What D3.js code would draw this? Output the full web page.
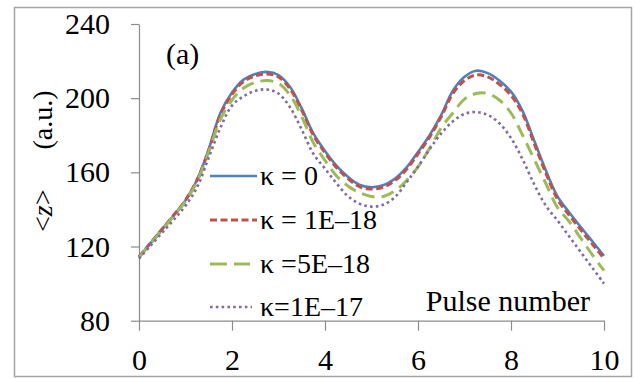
<!DOCTYPE html>
<html>
<head>
<meta charset="utf-8">
<script src="https://cdn.jsdelivr.net/npm/d3@7"></script>
<style>
  html, body { margin: 0; padding: 0; background: #fff; }
  svg { display: block; }
</style>
</head>
<body>
<svg id="chart" width="635" height="378"></svg>
<script>
// Pulse number (x positions of the samples)
const pulse = [0,0.25,0.5,0.75,1,1.25,1.5,1.75,2,2.25,2.5,2.75,3,3.25,3.5,3.75,4,4.25,4.5,4.75,5,
               5.25,5.5,5.75,6,6.25,6.5,6.75,7,7.25,7.5,7.75,8,8.25,8.5,8.75,9,9.25,9.5,9.75,10];

// <z> (a.u.) for each kappa
const zK0 = [114.5,122,129.5,137,145,156,172.5,192,203,210,213,214.2,212.5,206,194.5,181,171.5,163.5,157.5,153.2,152,
             153,156.5,162.5,171,180,191,204,211.5,214.8,213.5,209.5,203.5,193,177,161,147,138.5,130.5,122.8,115];
const zK1e18 = [114.5,122,129.5,137,145,156,172,191,202,209,212,213,211.5,205,193.5,180,170.5,162.5,156.5,152.2,151,
                152,155.5,161.5,170,179,190,202.5,209.5,212.5,211.5,207.5,201.5,191.5,175.5,159.5,145.5,137,129,121.3,113.5];
const zK5e18 = [114,121.5,129,136.5,144.5,155,171,188.5,199,205.5,208.5,209.5,208,201.5,190,176,166.5,158,152.5,149,147,
                147,150,155.5,163,173,184,192,199.5,202.5,202.5,199,192,180,167,154,141,133.5,124.5,115.5,107];
const zK1e17 = [113.5,120.5,127.5,134.5,142,152,168,184,196,201,204,204.7,202.5,195,183,170,162,154,147,143,141.5,
                142.5,146.5,154.5,163,172.5,181,187.5,191.5,192.5,191,186.5,178.5,167,153.5,142,134,125.5,117,108.5,100];

const seriesLabels = ["κ = 0", "κ = 1E–18", "κ =5E–18", "κ=1E–17"];
const xTicks = [0, 2, 4, 6, 8, 10];
const yTicks = [80, 120, 160, 200, 240];

const seriesValues = [zK0, zK1e18, zK5e18, zK1e17];
const seriesStyle = [
  { color: "#4f81bd", width: 2.6, dash: null },
  { color: "#c0504d", width: 3, dash: "7,3.5" },
  { color: "#9bbb59", width: 3, dash: "13,7" },
  { color: "#7f6aa6", width: 2.6, dash: "2.6,3.2" }
];

const SERIF = "'Liberation Serif', Tinos, 'Times New Roman', Times, 'DejaVu Serif', 'Noto Serif', serif";

const svg = d3.select("#chart");

// outer frame
svg.append("rect")
  .attr("x", 14.5).attr("y", 7.5).attr("width", 617).attr("height", 369)
  .attr("fill", "none").attr("stroke", "#a5a5a5").attr("stroke-width", 1.5);

const x = d3.scaleLinear().domain([0, 10]).range([139, 604]);
const y = d3.scaleLinear().domain([80, 240]).range([320.7, 24]);

const axisColor = "#8c8c8c";

// y axis
const gy = svg.append("g").attr("transform", `translate(${x(0)},0)`)
  .call(d3.axisLeft(y).tickValues(yTicks).tickSize(8).tickSizeOuter(0).tickPadding(21));
gy.attr("font-family", SERIF).attr("font-size", 30);
gy.select(".domain").attr("stroke", axisColor).attr("stroke-width", 1.2);
gy.selectAll(".tick line").attr("stroke", axisColor).attr("stroke-width", 1.2);
gy.selectAll(".tick text").attr("fill", "#000");

// x axis
const gx = svg.append("g").attr("transform", `translate(0,${y(80)})`)
  .call(d3.axisBottom(x).tickValues(xTicks).tickSize(10).tickSizeOuter(0).tickPadding(18));
gx.attr("font-family", SERIF).attr("font-size", 30);
gx.select(".domain").attr("stroke", axisColor).attr("stroke-width", 1.2);
gx.selectAll(".tick line").attr("stroke", axisColor).attr("stroke-width", 1.2);
gx.selectAll(".tick text").attr("fill", "#000");

// curves
const line = d3.line()
  .x((d, i) => x(pulse[i]))
  .y(d => y(d))
  .curve(d3.curveCatmullRom.alpha(0.5));

seriesValues.forEach((vals, k) => {
  const s = seriesStyle[k];
  svg.append("path")
    .datum(vals)
    .attr("d", line)
    .attr("fill", "none")
    .attr("stroke", s.color)
    .attr("stroke-width", s.width)
    .attr("stroke-dasharray", s.dash);
});

// legend
const legendRows = [176, 220, 264, 307];
const legendLen = [47, 47, 40, 42];
seriesLabels.forEach((lab, k) => {
  const s = seriesStyle[k];
  svg.append("line")
    .attr("x1", 210).attr("x2", 210 + legendLen[k])
    .attr("y1", legendRows[k]).attr("y2", legendRows[k])
    .attr("stroke", s.color).attr("stroke-width", s.width)
    .attr("stroke-dasharray", k === 2 ? "17,7" : s.dash);
  svg.append("text")
    .attr("x", 260).attr("y", legendRows[k] + 9)
    .attr("font-family", SERIF).attr("font-size", 28)
    .text(lab);
});

// panel tag
svg.append("text").attr("x", 166).attr("y", 64)
  .attr("font-family", SERIF).attr("font-size", 30).text("(a)");

// x axis title
svg.append("text").attr("x", 590).attr("y", 311).attr("text-anchor", "end")
  .attr("font-family", SERIF).attr("font-size", 30).text("Pulse number");

// y axis title
const yt = svg.append("text")
  .attr("transform", "translate(52,232) rotate(-90)")
  .attr("font-family", SERIF).attr("font-size", 28);
yt.append("tspan").text("<");
yt.append("tspan").attr("font-style", "italic").text("z");
yt.append("tspan").text(">");
yt.append("tspan").attr("dx", 40).text("(a.u.)");
</script>
</body>
</html>
